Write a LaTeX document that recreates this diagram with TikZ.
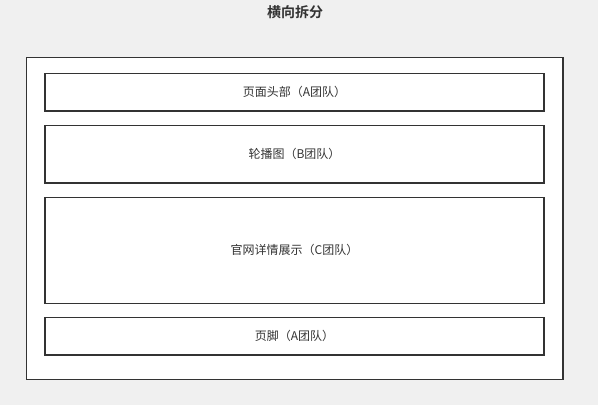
\documentclass[tikz,border=0pt]{standalone}
\usepackage{fontspec}
\newfontfamily\cjk{Noto Sans CJK SC}
\newfontfamily\cjkb{Noto Sans CJK SC Bold}
\definecolor{bg}{HTML}{F0F0F0}
\definecolor{ink}{HTML}{333333}
\tikzset{
  px/.style={x=0.75pt,y=-0.75pt},
  panel/.style={draw=ink,line width=0.95pt,fill=white},
  lbl/.style={font=\cjk\fontsize{9}{11}\selectfont,text=ink,inner sep=0pt},
}
\begin{document}
\begin{tikzpicture}[px]
\fill[bg] (0,0) rectangle (598,405);
\useasboundingbox (0,0) rectangle (598,405);
\node[font=\cjkb\fontsize{10.5}{12}\selectfont,text=ink,inner sep=0pt] (title) at (295,12) {横向拆分};
\draw[panel] (26.5,57.5) rectangle (563,379.5);
\draw[panel] (45,73.5) rectangle (544,111) coordinate (b1e);
\node[lbl] (l1) at (294.5,92) {页面头部（A团队）};
\draw[panel] (45,125.5) rectangle (544,183);
\node[lbl] (l2) at (294.5,154) {轮播图（B团队）};
\draw[panel] (45,197.5) rectangle (544,303.5);
\node[lbl] (l3) at (294.5,250) {官网详情展示（C团队）};
\draw[panel] (45,317.5) rectangle (544,355);
\node[lbl] (l4) at (294.5,336) {页脚（A团队）};
\end{tikzpicture}
\end{document}
